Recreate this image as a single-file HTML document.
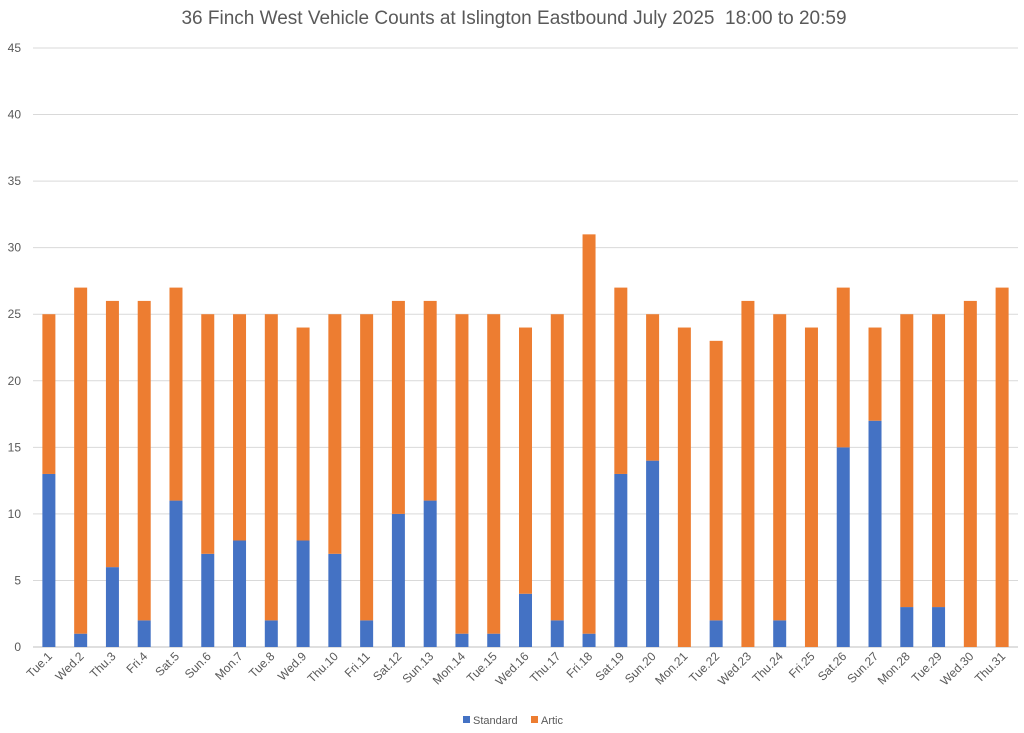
<!DOCTYPE html>
<html><head><meta charset="utf-8"><style>
body{margin:0;background:#fff;}
svg{display:block;font-family:"Liberation Sans",sans-serif;}
</style></head><body>
<svg id="chart" width="1024" height="733">
<text x="514" y="24" text-anchor="middle" font-size="19" fill="#595959" style="white-space:pre" xml:space="preserve">36 Finch West Vehicle Counts at Islington Eastbound July 2025  18:00 to 20:59</text>
<g id="grid"></g><g id="bars"></g><g id="xlabels"></g>
<g>
<rect x="463" y="716" width="7" height="7" fill="#4472C4"/>
<text x="473" y="724" font-size="11" fill="#595959">Standard</text>
<rect x="531" y="716" width="7" height="7" fill="#ED7D31"/>
<text x="541" y="724" font-size="11" fill="#595959">Artic</text>
</g>
</svg>
<script>
const categories=["Tue.1","Wed.2","Thu.3","Fri.4","Sat.5","Sun.6","Mon.7","Tue.8","Wed.9","Thu.10","Fri.11","Sat.12","Sun.13","Mon.14","Tue.15","Wed.16","Thu.17","Fri.18","Sat.19","Sun.20","Mon.21","Tue.22","Wed.23","Thu.24","Fri.25","Sat.26","Sun.27","Mon.28","Tue.29","Wed.30","Thu.31"];
const standard=[13,1,6,2,11,7,8,2,8,7,2,10,11,1,1,4,2,1,13,14,0,2,0,2,0,15,17,3,3,0,0];
const artic=[12,26,20,24,16,18,17,23,16,18,23,16,15,24,24,20,23,30,14,11,24,21,26,23,24,12,7,22,22,26,27];
const yTicks=[0,5,10,15,20,25,30,35,40,45];
const NS="http://www.w3.org/2000/svg";
const x0=33,x1=1018,yBase=647,yTop=48,yMax=45;
const step=(x1-x0)/categories.length;
const yS=v=>yBase-v/yMax*(yBase-yTop);
const xC=i=>x0+step*(i+0.5);
const grid=document.getElementById('grid'),bars=document.getElementById('bars'),xl=document.getElementById('xlabels');
function mk(t,a,p){const e=document.createElementNS(NS,t);for(const k in a)e.setAttribute(k,a[k]);p.appendChild(e);return e;}
yTicks.forEach(v=>{
 const l=mk('line',{x1:x0,x2:x1,y1:yS(v),y2:yS(v),stroke:v===0?'#BFBFBF':'#D9D9D9','stroke-width':1},grid);
 
 
 const t=mk('text',{x:21,y:yS(v)+4,'text-anchor':'end','font-size':12,fill:'#595959'},grid);
 t.textContent=v;
 
 
});
const bw=13;
categories.forEach((c,i)=>{
 const cx=xC(i);
 const s=mk('rect',{x:cx-bw/2,y:yS(standard[i]),width:bw,height:yBase-yS(standard[i]),fill:'#4472C4'},bars);
 
 
 const tot=standard[i]+artic[i];
 const a=mk('rect',{x:cx-bw/2,y:yS(tot),width:bw,height:yS(standard[i])-yS(tot),fill:'#ED7D31'},bars);
 
 
 const t=mk('text',{x:cx+4,y:yBase+10,'text-anchor':'end','font-size':12,fill:'#595959',transform:`rotate(-45 ${cx+4} ${yBase+10})`},xl);
 t.textContent=c;
 
 
});
</script>
</body></html>
